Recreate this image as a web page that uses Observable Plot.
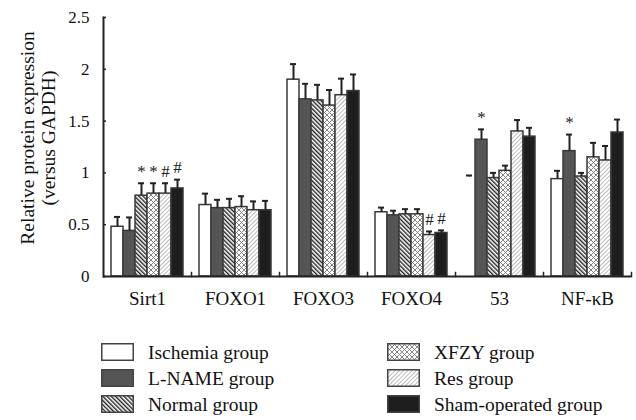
<!DOCTYPE html>
<html><head><meta charset="utf-8">
<script src="https://cdn.jsdelivr.net/npm/d3@7"></script>
<script src="https://cdn.jsdelivr.net/npm/@observablehq/plot@0.6"></script>
<style>
body{margin:0;background:#fff;}
svg{display:block;}
#legend text{font-family:"Liberation Serif","Times New Roman",serif;}
</style></head><body>
<div id="chart"></div><div id="legend"></div>
<script>
const categories = ["Sirt1", "FOXO1", "FOXO3", "FOXO4", "53", "NF-\u03BAB"];
const groups = ["Ischemia group", "L-NAME group", "Normal group", "XFZY group", "Res group", "Sham-operated group"];

const ischemia = [0.48, 0.69, 1.90, 0.62, 0.96, 0.94];
const lname    = [0.44, 0.66, 1.71, 0.59, 1.32, 1.21];
const normal   = [0.78, 0.66, 1.70, 0.60, 0.95, 0.965];
const xfzy     = [0.80, 0.67, 1.65, 0.60, 1.02, 1.15];
const res      = [0.80, 0.64, 1.75, 0.40, 1.40, 1.12];
const sham     = [0.85, 0.64, 1.79, 0.42, 1.35, 1.39];

const ischemiaErr = [0.095, 0.11, 0.15, 0.045, 0.015, 0.08];
const lnameErr    = [0.13, 0.08, 0.15, 0.045, 0.10, 0.16];
const normalErr   = [0.12, 0.09, 0.15, 0.05, 0.05, 0.035];
const xfzyErr     = [0.10, 0.105, 0.15, 0.05, 0.05, 0.14];
const resErr      = [0.10, 0.085, 0.16, 0.035, 0.11, 0.14];
const shamErr     = [0.085, 0.09, 0.16, 0.025, 0.085, 0.125];

const ischemiaMark = ["", "", "", "", "", ""];
const lnameMark    = ["", "", "", "", "*", "*"];
const normalMark   = ["*", "", "", "", "", ""];
const xfzyMark     = ["*", "", "", "", "", ""];
const resMark      = ["#", "", "", "#", "", ""];
const shamMark     = ["#", "", "", "#", "", ""];

const yTicks = [0, 0.5, 1, 1.5, 2, 2.5];
const yLabel = "Relative protein expression\n(versus GAPDH)";

const seriesValues = [ischemia, lname, normal, xfzy, res, sham];
const seriesErrs = [ischemiaErr, lnameErr, normalErr, xfzyErr, resErr, shamErr];
const seriesMarks = [ischemiaMark, lnameMark, normalMark, xfzyMark, resMark, shamMark];

const fills = ["#ffffff", "#555555", "url(#pNormal)", "url(#pXfzy)", "url(#pRes)", "#1e1e1e"];

const data = [];
categories.forEach((cat, i) => {
  groups.forEach((g, j) => {
    data.push({cat, group: g, value: seriesValues[j][i], err: seriesErrs[j][i], mark: seriesMarks[j][i]});
  });
});

const plot = Plot.plot({
  width: 636,
  height: 320,
  marginLeft: 102,
  marginRight: 4,
  marginTop: 17,
  marginBottom: 44,
  style: {fontFamily: "Liberation Serif", fontSize: "17px", background: "white", color: "#111"},
  fx: {domain: categories, padding: 0},
  x: {domain: groups, paddingInner: 0, paddingOuter: 0.47, axis: null},
  y: {domain: [0, 2.5]},
  color: {domain: groups, range: fills},
  marks: [
    Plot.barY(data, {
      fx: "cat", x: "group", y: "value", fill: "group",
      stroke: d => (d.cat === "53" && d.group === groups[0]) ? "none" : "#3a3a3a",
      strokeWidth: 1.5
    }),
    Plot.ruleX(data, {fx: "cat", x: "group", y1: "value", y2: d => d.value + d.err, stroke: "#222", strokeWidth: 2}),
    Plot.tickY(data, {fx: "cat", x: "group", y: d => d.value + d.err, stroke: "#222", strokeWidth: 2, insetLeft: 3, insetRight: 3}),
    Plot.text(data.filter(d => d.mark), {fx: "cat", x: "group", y: d => d.value + d.err, text: "mark", dy: -12, fontSize: 17, fill: "#222"}),
    Plot.ruleY([0], {stroke: "#222", strokeWidth: 2}),
    Plot.frame({anchor: "right", insetTop: 255, stroke: "#222", strokeWidth: 1.5}),
    Plot.frame({anchor: "left", facetAnchor: "left", stroke: "#222", strokeWidth: 2}),
    Plot.tickY(yTicks, {y: d => d, facetAnchor: "left", insetRight: 85, stroke: "#222", strokeWidth: 1.5}),
    Plot.axisY({ticks: yTicks, tickFormat: d => String(d), tickSize: 0, tickPadding: 14, label: null, fontSize: 17}),
    Plot.axisFx({anchor: "bottom", tickSize: 0, tickPadding: 15, label: null, fontSize: 19}),
    Plot.text([yLabel], {
      frameAnchor: "left", facetAnchor: "left", rotate: -90, dx: -66, dy: -9,
      textAnchor: "middle", lineAnchor: "middle",
      fontSize: 19.5, lineHeight: 1.1, fill: "#111"
    })
  ]
});

plot.insertAdjacentHTML("afterbegin", `<defs>
<pattern id="pNormal" patternUnits="userSpaceOnUse" width="3" height="3" patternTransform="rotate(-45)"><rect width="3" height="3" fill="#fff"/><rect width="1.4" height="3" fill="#222"/></pattern>
<pattern id="pXfzy" patternUnits="userSpaceOnUse" width="5" height="5"><rect width="5" height="5" fill="#fff"/><path d="M0,0L5,5M5,0L0,5" stroke="#777" stroke-width="0.9"/></pattern>
<pattern id="pRes" patternUnits="userSpaceOnUse" width="3" height="3" patternTransform="rotate(45)"><rect width="3" height="3" fill="#fff"/><rect width="1" height="3" fill="#bbb"/></pattern>
</defs>`);
document.getElementById("chart").appendChild(plot);

// Legend (two columns of three swatches) below the plot
const lg = d3.select("#legend").append("svg")
  .attr("width", 636).attr("height", 100)
  .style("font-family", "'Liberation Serif', serif").style("font-size", "19.5px");
const item = lg.selectAll("g").data(groups).join("g")
  .attr("transform", (g, j) => `translate(${Math.floor(j / 3) === 0 ? 101 : 387},${32 + (j % 3) * 26})`);
item.append("rect")
  .attr("x", 0.75).attr("y", -8.25).attr("width", 31.5).attr("height", 16.5)
  .attr("fill", (g, j) => fills[j]).attr("stroke", "#444").attr("stroke-width", 1.5);
item.append("text")
  .attr("x", 47).attr("y", 0).attr("dy", "0.35em")
  .style("font-family", "'Liberation Serif', serif")
  .attr("fill", "#111")
  .text(g => g);
</script>
</body></html>
